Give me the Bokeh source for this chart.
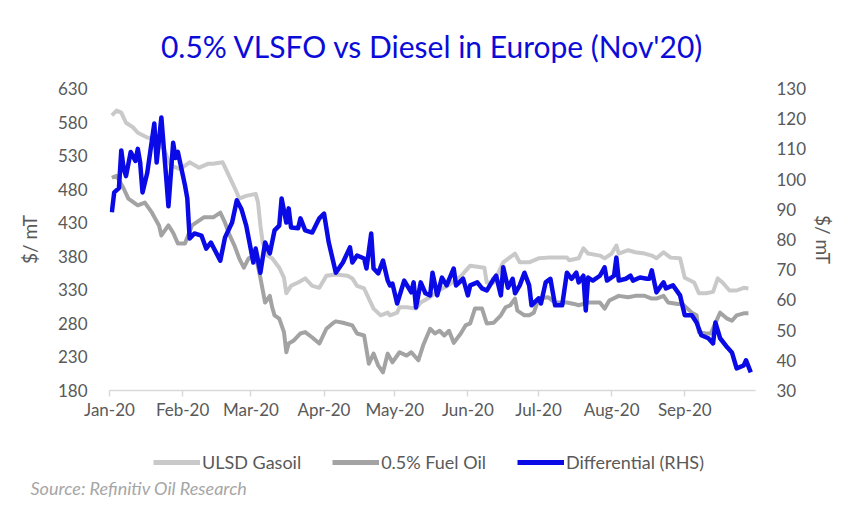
import pandas as pd
from bokeh.plotting import figure
from bokeh.layouts import column
from bokeh.models import (Range1d, LinearAxis, FixedTicker, DatetimeTickFormatter,
                          Legend, LegendItem, Title)
from bokeh.embed import file_html
from bokeh.resources import INLINE

# ULSD gasoil, $/mT (left axis)
gasoil_dates = ["01-02", "01-04", "01-06", "01-08", "01-11", "01-13", "01-17", "01-20", "01-24", "01-27",
                "01-31", "02-04", "02-08", "02-12", "02-14", "02-18", "02-20", "02-22", "02-24", "02-25",
                "02-28", "03-03", "03-04", "03-05", "03-06", "03-08", "03-10", "03-13", "03-15", "03-16",
                "03-18", "03-21", "03-24", "03-27", "03-30", "04-02", "04-06", "04-11", "04-13", "04-15",
                "04-18", "04-20", "04-22", "04-25", "04-28", "04-29", "05-02", "05-03", "05-06", "05-10",
                "05-12", "05-15", "05-20", "05-23", "05-29", "06-02", "06-08", "06-09", "06-12", "06-16",
                "06-21", "06-23", "06-27", "07-01", "07-05", "07-13", "07-14", "07-18", "07-20", "07-22",
                "07-27", "07-29", "08-01", "08-03", "08-04", "08-08", "08-11", "08-15", "08-18", "08-20",
                "08-23", "08-26", "08-30", "09-01", "09-05", "09-07", "09-10", "09-13", "09-15", "09-17",
                "09-20", "09-23", "09-26", "09-28"]
gasoil = [590, 597, 594, 579, 572, 564, 557, 555, 540, 515,
          510, 520, 512, 518, 518, 520, 505, 490, 475, 466,
          470, 473, 460, 426, 400, 381, 377, 363, 348, 325,
          336, 341, 347, 336, 333, 351, 353, 351, 347, 336,
          332, 317, 302, 292, 296, 292, 296, 304, 304, 302,
          311, 317, 330, 335, 350, 366, 363, 341, 341, 371,
          384, 371, 371, 377, 378, 378, 374, 377, 392, 384,
          381, 377, 384, 396, 384, 389, 386, 384, 381, 377,
          386, 378, 377, 348, 341, 325, 325, 327, 347, 341,
          329, 329, 333, 332]

# 0.5% fuel oil, $/mT (left axis)
fuel_dates = ["01-02", "01-04", "01-07", "01-09", "01-13", "01-16", "01-19", "01-22", "01-23", "01-26",
              "01-28", "01-30", "02-02", "02-05", "02-10", "02-14", "02-17", "02-19", "02-21", "02-23",
              "02-25", "02-27", "02-29", "03-03", "03-05", "03-07", "03-09", "03-10", "03-11", "03-13",
              "03-15", "03-16", "03-17", "03-19", "03-22", "03-24", "03-27", "03-30", "04-02", "04-05",
              "04-06", "04-09", "04-13", "04-15", "04-18", "04-20", "04-22", "04-24", "04-26", "04-28",
              "04-30", "05-03", "05-06", "05-08", "05-11", "05-13", "05-16", "05-18", "05-20", "05-22",
              "05-24", "05-26", "05-29", "05-31", "06-02", "06-04", "06-07", "06-09", "06-12", "06-15",
              "06-17", "06-19", "06-21", "06-22", "06-25", "06-27", "06-29", "07-01", "07-05", "07-08",
              "07-13", "07-16", "07-18", "07-22", "07-27", "07-29", "07-31", "08-04", "08-08", "08-11",
              "08-15", "08-18", "08-20", "08-23", "08-25", "08-29", "08-31", "09-04", "09-06", "09-07",
              "09-10", "09-12", "09-16", "09-19", "09-21", "09-23", "09-26", "09-28"]
fuel_oil = [497, 500, 481, 466, 456, 460, 445, 426, 411, 426,
            415, 399, 399, 426, 438, 438, 445, 430, 411, 396,
            377, 363, 377, 381, 348, 311, 321, 304, 292, 287,
            267, 237, 250, 254, 265, 267, 259, 250, 272, 281,
            283, 281, 277, 265, 262, 220, 235, 217, 207, 235,
            222, 237, 232, 237, 225, 247, 272, 265, 269, 262,
            269, 251, 265, 277, 280, 302, 302, 280, 281, 292,
            304, 307, 317, 299, 292, 292, 296, 317, 319, 311,
            311, 309, 307, 311, 311, 302, 314, 321, 319, 321,
            321, 317, 317, 321, 311, 309, 309, 296, 292, 267,
            265, 265, 296, 287, 284, 292, 295, 295]

# Gasoil minus fuel oil differential, $/mT (right axis)
diff_dates = ["01-02", "01-03", "01-05", "01-06", "01-07", "01-08", "01-10", "01-12", "01-13", "01-14",
              "01-15", "01-17", "01-20", "01-21", "01-23", "01-25", "01-26", "01-28", "01-29", "01-30",
              "02-02", "02-03", "02-04", "02-06", "02-09", "02-11", "02-13", "02-17", "02-19", "02-22",
              "02-24", "02-26", "02-28", "03-02", "03-03", "03-05", "03-07", "03-09", "03-11", "03-13",
              "03-14", "03-16", "03-17", "03-18", "03-21", "03-22", "03-24", "03-27", "03-30", "04-01",
              "04-03", "04-06", "04-09", "04-12", "04-13", "04-15", "04-18", "04-19", "04-21", "04-22",
              "04-24", "04-26", "04-28", "04-29", "04-30", "05-02", "05-05", "05-08", "05-09", "05-10",
              "05-12", "05-14", "05-16", "05-17", "05-19", "05-21", "05-23", "05-26", "05-27", "05-30",
              "06-01", "06-02", "06-05", "06-07", "06-09", "06-12", "06-13", "06-15", "06-16", "06-18",
              "06-20", "06-21", "06-23", "06-25", "06-27", "06-28", "07-01", "07-02", "07-04", "07-06",
              "07-08", "07-11", "07-13", "07-15", "07-17", "07-18", "07-20", "07-21", "07-22", "07-24",
              "07-27", "07-29", "07-30", "08-02", "08-03", "08-04", "08-07", "08-09", "08-10", "08-13",
              "08-16", "08-17", "08-18", "08-20", "08-22", "08-23", "08-24", "08-27", "08-30", "09-01",
              "09-04", "09-06", "09-08", "09-11", "09-13", "09-14", "09-16", "09-19", "09-21", "09-23",
              "09-26", "09-27", "09-29"]
differential = [89.0, 95.6, 97.0, 109.5, 103.5, 101.0, 109.0, 106.0, 110.0, 105.5,
                95.6, 102.0, 118.4, 105.5, 120.4, 101.0, 91.0, 112.0, 107.0, 109.0,
                98.0, 93.6, 80.3, 82.0, 81.3, 77.0, 79.0, 73.0, 80.7, 85.6,
                93.0, 90.0, 84.6, 72.4, 77.0, 69.0, 79.0, 75.4, 83.0, 84.6,
                93.6, 85.6, 90.3, 84.0, 83.7, 87.0, 83.0, 82.3, 87.0, 88.6,
                79.0, 69.0, 72.4, 77.4, 72.4, 74.7, 73.7, 70.4, 82.0, 70.4,
                68.8, 73.0, 66.4, 64.8, 65.4, 58.8, 66.4, 62.5, 65.8, 57.5,
                65.8, 62.2, 61.5, 69.0, 61.5, 67.4, 64.8, 70.4, 64.8, 67.0,
                61.5, 64.8, 65.8, 63.8, 63.1, 67.0, 68.0, 61.5, 70.8, 64.0,
                67.0, 62.2, 64.8, 69.0, 64.8, 58.2, 60.5, 58.8, 65.8, 67.0,
                58.2, 58.2, 69.0, 67.0, 69.0, 65.8, 68.0, 56.5, 67.4, 66.4,
                68.0, 70.8, 66.4, 68.0, 74.0, 66.4, 67.0, 68.0, 66.4, 67.4,
                67.0, 67.0, 69.8, 62.5, 64.8, 65.8, 63.8, 64.8, 61.5, 54.9,
                54.9, 52.5, 48.3, 47.3, 45.6, 52.5, 47.3, 44.3, 42.6, 37.3,
                38.3, 40.0, 36.0]

left_ticks = [180, 230, 280, 330, 380, 430, 480, 530, 580, 630]
right_ticks = [30, 40, 50, 60, 70, 80, 90, 100, 110, 120, 130]
month_starts = ["2020-01-01", "2020-02-01", "2020-03-01", "2020-04-01", "2020-05-01",
                "2020-06-01", "2020-07-01", "2020-08-01", "2020-09-01"]
series_names = ["ULSD Gasoil", "0.5% Fuel Oil", "Differential (RHS)"]
series_colors = ["#c9c9c9", "#a3a3a3", "#0a0ae6"]

FONT = "Lato"
TEXT_GREY = "#595959"


def as_dates(days):
    return pd.to_datetime(["2020-" + d for d in days])


p = figure(width=860, height=430, x_axis_type="datetime",
           x_range=Range1d(pd.Timestamp("2020-01-01"), pd.Timestamp("2020-10-01")),
           y_range=Range1d(180, 630),
           output_backend="svg", toolbar_location=None,
           min_border_left=109, min_border_right=105, min_border_top=88, min_border_bottom=40)
p.extra_y_ranges = {"rhs": Range1d(30, 130)}

p.title.text = "0.5% VLSFO vs Diesel in Europe (Nov'20)"
p.title.align = "center"
p.title.text_font = FONT
p.title.text_font_size = "30px"
p.title.text_font_style = "normal"
p.title.text_color = "#0c0cd8"
p.title.standoff = 49

p.outline_line_color = None
p.xgrid.grid_line_color = None
p.ygrid.grid_line_color = None
p.background_fill_color = "white"
p.border_fill_color = "white"

p.line(as_dates(gasoil_dates), gasoil, line_color=series_colors[0], line_width=4, line_join="round")
p.line(as_dates(fuel_dates), fuel_oil, line_color=series_colors[1], line_width=4, line_join="round")
p.line(as_dates(diff_dates), differential, line_color=series_colors[2], line_width=4.5,
       line_join="round", y_range_name="rhs")

# bottom date axis
xa = p.xaxis[0]
xa.ticker = FixedTicker(ticks=[pd.Timestamp(m).value / 1e6 for m in month_starts])
fmt = "%b-%y"
xa.formatter = DatetimeTickFormatter(milliseconds=fmt, seconds=fmt, minsec=fmt, minutes=fmt,
                                     hourmin=fmt, hours=fmt, days=fmt, months=fmt, years=fmt)
xa.axis_line_color = "#d9d9d9"
xa.axis_line_width = 1.5
xa.major_tick_line_color = "#d9d9d9"
xa.major_tick_line_width = 1.5
xa.major_tick_out = 6
xa.major_tick_in = 0
xa.minor_tick_line_color = None
xa.major_label_standoff = 2
xa.major_label_text_font = FONT
xa.major_label_text_font_size = "17px"
xa.major_label_text_color = TEXT_GREY

# left price axis
ya = p.yaxis[0]
ya.ticker = FixedTicker(ticks=left_ticks)
ya.axis_label = "$/ mT"

# right differential axis
ra = LinearAxis(y_range_name="rhs", ticker=FixedTicker(ticks=right_ticks), axis_label="$/ mT")
p.add_layout(ra, "right")

for ax, standoff, lab_standoff in ((ya, 16, 14), (ra, 15, 3)):
    ax.axis_line_color = None
    ax.major_tick_line_color = None
    ax.minor_tick_line_color = None
    ax.major_label_standoff = standoff
    ax.major_label_text_font = FONT
    ax.major_label_text_font_size = "17px"
    ax.major_label_text_color = TEXT_GREY
    ax.axis_label_text_font = FONT
    ax.axis_label_text_font_size = "19px"
    ax.axis_label_text_font_style = "normal"
    ax.axis_label_text_color = TEXT_GREY
    ax.axis_label_standoff = lab_standoff

# footer strip: legend row and source note (frame shares the chart's left/right edges)
foot = figure(width=860, height=99, x_range=Range1d(0, 1), y_range=Range1d(0, 1),
              output_backend="svg", toolbar_location=None,
              x_axis_location=None, y_axis_location=None,
              min_border_left=109, min_border_right=105, min_border_top=0, min_border_bottom=55)
foot.outline_line_color = None
foot.xgrid.grid_line_color = None
foot.ygrid.grid_line_color = None
foot.background_fill_color = "white"
foot.border_fill_color = "white"

items = []
for name, color in zip(series_names, series_colors):
    key = foot.line(x=[float("nan")], y=[float("nan")], line_color=color, line_width=5)
    items.append(LegendItem(label=name, renderers=[key]))

legend = Legend(items=items, orientation="horizontal", location=(44, 1),
                glyph_width=47, glyph_height=20, label_standoff=2, spacing=31,
                padding=0, margin=0, border_line_color=None, background_fill_alpha=0,
                label_text_font=FONT, label_text_font_size="18px", label_text_color=TEXT_GREY)
foot.add_layout(legend)

foot.add_layout(Title(text="Source: Refinitiv Oil Research", align="left", offset=-79, standoff=0,
                      text_font=FONT, text_font_size="18px", text_font_style="italic",
                      text_color="#a6a6a6"), "below")

open("out.html", "w").write(file_html(column(p, foot, spacing=0), INLINE))
